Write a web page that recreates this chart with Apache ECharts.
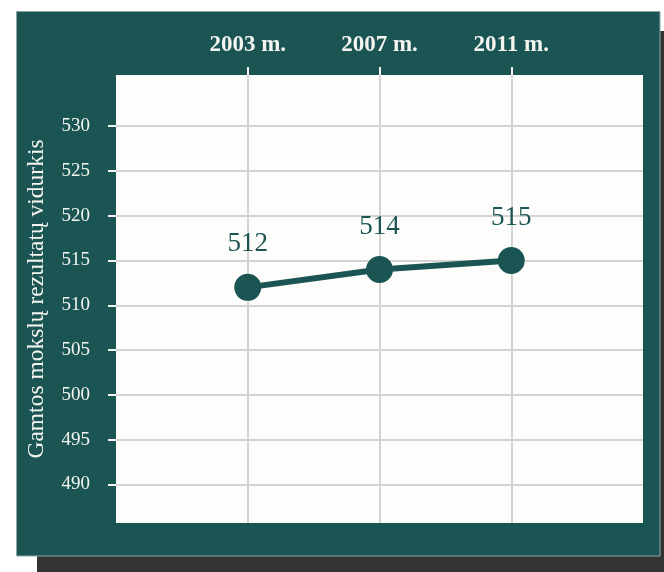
<!DOCTYPE html>
<html>
<head>
<meta charset="utf-8">
<script src="https://cdn.jsdelivr.net/npm/echarts@6/dist/echarts.min.js"></script>
<style>
html,body{margin:0;padding:0;background:#ffffff;}
#chart{width:664px;height:572px;}
</style>
</head>
<body>
<div id="chart"></div>
<script>
// Data
const years = [2003, 2007, 2011];
const yearLabels = ['2003 m.', '2007 m.', '2011 m.'];
const scores = [512, 514, 515];
const yTicks = [490, 495, 500, 505, 510, 515, 520, 525, 530];
const yAxisTitle = 'Gamtos mokslų rezultatų vidurkis';

const teal = '#1a5553';
const fontFamily = '"Liberation Serif", "DejaVu Serif", serif';

const chart = echarts.init(document.getElementById('chart'), null, {renderer: 'canvas'});

const option = {
  animation: false,
  backgroundColor: '#ffffff',
  graphic: [
    {type: 'rect', z: -100, shape: {x: 37, y: 31, width: 660, height: 580}, style: {fill: '#333333'}},
    {type: 'rect', z: -99, shape: {x: 16.5, y: 11.5, width: 643.5, height: 544.5}, style: {fill: teal, stroke: '#8ea6a4', lineWidth: 1}}
  ],
  grid: {
    left: 116, top: 75, right: 21, bottom: 49,
    show: true, backgroundColor: '#fdfdfb', borderWidth: 0
  },
  xAxis: {
    type: 'value',
    position: 'top',
    min: 1999, max: 2015,
    axisLine: {show: false},
    axisTick: {show: true, length: 8, customValues: years, lineStyle: {color: '#f4f4f0', width: 2}},
    axisLabel: {
      customValues: years,
      margin: 18,
      color: '#f4f4f0',
      fontFamily: fontFamily,
      fontWeight: 'bold',
      fontSize: 23,
      formatter: function (v) { return yearLabels[years.indexOf(v)]; }
    },
    splitLine: {show: true, lineStyle: {color: '#d4d4d4', width: 2}}
  },
  yAxis: {
    type: 'value',
    min: 485.7, max: 535.7,
    name: yAxisTitle,
    nameLocation: 'middle',
    nameRotate: 90,
    nameGap: 67,
    nameMoveOverlap: false,
    nameTextStyle: {color: '#f4f4f0', fontFamily: fontFamily, fontSize: 23.5},
    axisLine: {show: false},
    axisTick: {show: true, length: 8, customValues: yTicks, lineStyle: {color: '#f4f4f0', width: 2}},
    axisLabel: {
      customValues: yTicks,
      margin: 26,
      color: '#f4f4f0',
      fontFamily: fontFamily,
      fontSize: 19
    },
    splitLine: {show: true, lineStyle: {color: '#d4d4d4', width: 2}}
  },
  series: [{
    type: 'line',
    data: years.map((y, i) => [y, scores[i]]),
    symbol: 'circle',
    symbolSize: 27,
    lineStyle: {color: teal, width: 6},
    itemStyle: {color: teal},
    label: {
      show: true,
      position: 'top',
      distance: 16,
      color: teal,
      fontFamily: fontFamily,
      fontSize: 27
    }
  }]
};
chart.setOption(option);
</script>
</body>
</html>
